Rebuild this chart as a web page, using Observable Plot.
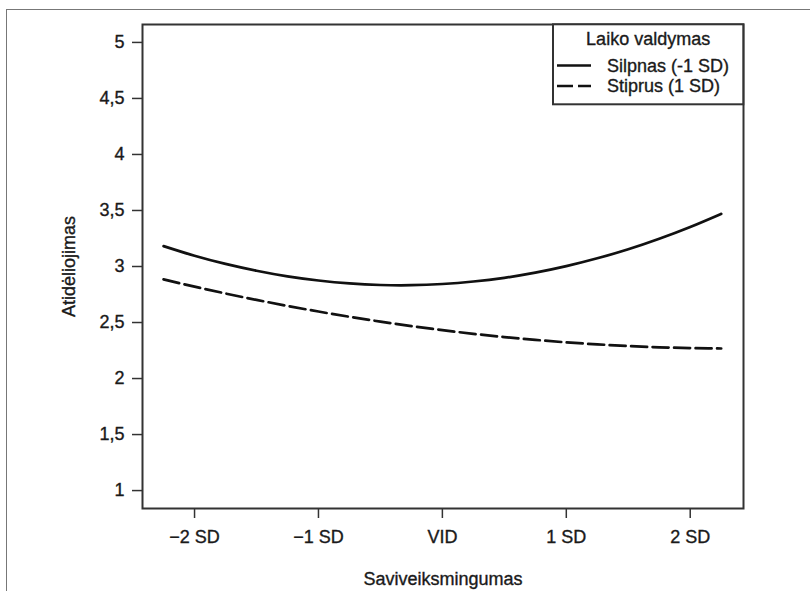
<!DOCTYPE html>
<html>
<head>
<meta charset="utf-8">
<script src="https://cdn.jsdelivr.net/npm/d3@7"></script>
<script src="https://cdn.jsdelivr.net/npm/@observablehq/plot@0.6"></script>
<style>
  html, body { margin: 0; padding: 0; background: #fff; }
  #wrap { position: relative; width: 810px; height: 591px; overflow: hidden; background: #fff; }
  #chart { position: absolute; left: 0; top: 0; }
  #outer { position: absolute; left: 6px; top: 9px; width: 810px; height: 600px;
           border-top: 1.5px solid #777; border-left: 1.5px solid #777; box-sizing: border-box; pointer-events: none; }
  #legend { position: absolute; left: 0; top: 0; pointer-events: none; }
  svg text { stroke: #1a1a1a; stroke-width: 0.35px; }
</style>
</head>
<body>
<div id="wrap">
  <div id="chart"></div>
  <div id="outer"></div>
  <svg id="legend" width="810" height="591"></svg>
</div>
<script>
// ---- data ----
const xValues = [-2.25, -2, -1.75, -1.5, -1.25, -1, -0.75, -0.5, -0.25, 0, 0.25, 0.5, 0.75, 1, 1.25, 1.5, 1.75, 2, 2.25];
const silpnas = [3.182, 3.096, 3.023, 2.962, 2.912, 2.875, 2.849, 2.835, 2.833, 2.844, 2.866, 2.899, 2.945, 3.003, 3.073, 3.154, 3.248, 3.353, 3.470];
const stiprus = [2.885, 2.820, 2.759, 2.702, 2.648, 2.598, 2.551, 2.508, 2.468, 2.432, 2.399, 2.370, 2.345, 2.323, 2.305, 2.290, 2.279, 2.272, 2.268];
const seriesNames = ["Silpnas (-1 SD)", "Stiprus (1 SD)"];
const legendTitle = "Laiko valdymas";
const xTicks = [-2, -1, 0, 1, 2];
const xTickLabels = ["\u22122 SD", "\u22121 SD", "VID", "1 SD", "2 SD"];
const yTicks = [1, 1.5, 2, 2.5, 3, 3.5, 4, 4.5, 5];
const xTitle = "Saviveiksmingumas";
const yTitle = "Atidėliojimas";

const rows = [];
xValues.forEach((x, i) => {
  rows.push({x, y: silpnas[i], s: seriesNames[0]});
  rows.push({x, y: stiprus[i], s: seriesNames[1]});
});

const FONT = "'Liberation Sans', Arial, Helvetica, sans-serif";

const chart = Plot.plot({
  width: 810,
  height: 591,
  marginLeft: 142,
  marginRight: 67,
  marginTop: 24,
  marginBottom: 83,
  style: { fontFamily: FONT, fontSize: "18px", color: "#1a1a1a", background: "transparent", overflow: "visible" },
  x: { domain: [-2.42, 2.43] },
  y: { domain: [0.84, 5.16] },
  marks: [
    Plot.axisX({
      ticks: xTicks,
      tickFormat: d => xTickLabels[xTicks.indexOf(d)],
      tickSize: 10,
      tickPadding: 12,
      stroke: "#333",
      strokeWidth: 1.5,
      fontSize: 18,
      label: xTitle,
      labelAnchor: "center",
      labelOffset: 76,
      labelArrow: false
    }),
    Plot.axisY({
      ticks: yTicks,
      tickFormat: d => String(d).replace(".", ","),
      tickSize: 10,
      tickPadding: 8,
      stroke: "#333",
      strokeWidth: 1.5,
      fontSize: 18,
      label: yTitle,
      labelAnchor: "center",
      labelOffset: 80,
      labelArrow: false
    }),
    Plot.frame({ stroke: "#333", strokeWidth: 2 }),
    Plot.line(rows.filter(d => d.s === seriesNames[0]), {
      x: "x", y: "y", stroke: "#111", strokeWidth: 2.7, curve: "natural"
    }),
    Plot.line(rows.filter(d => d.s === seriesNames[1]), {
      x: "x", y: "y", stroke: "#111", strokeWidth: 2.7, curve: "natural", strokeDasharray: "16,5.5"
    })
  ]
});
document.getElementById("chart").appendChild(chart);

// ---- legend (inside the plot, top-right corner) ----
const lg = d3.select("#legend");
const bx = 553, by = 24.3, bw = 190.3, bh = 80;
lg.append("rect").attr("x", bx).attr("y", by).attr("width", bw).attr("height", bh)
  .attr("fill", "#fff").attr("stroke", "#333").attr("stroke-width", 2);
lg.append("text").attr("x", bx + bw / 2).attr("y", 39).attr("dy", "0.35em")
  .attr("text-anchor", "middle").attr("font-family", FONT).attr("font-size", 18).attr("fill", "#1a1a1a")
  .text(legendTitle);
const dashes = [null, "16,5"];
seriesNames.forEach((name, i) => {
  const yy = 65.5 + i * 20.5;
  lg.append("line").attr("x1", 557).attr("x2", 591).attr("y1", yy).attr("y2", yy)
    .attr("stroke", "#111").attr("stroke-width", 2.7)
    .attr("stroke-dasharray", dashes[i]);
  lg.append("text").attr("x", 607).attr("y", yy).attr("dy", "0.35em")
    .attr("font-family", FONT).attr("font-size", 18).attr("fill", "#1a1a1a")
    .text(name);
});
</script>
</body>
</html>
